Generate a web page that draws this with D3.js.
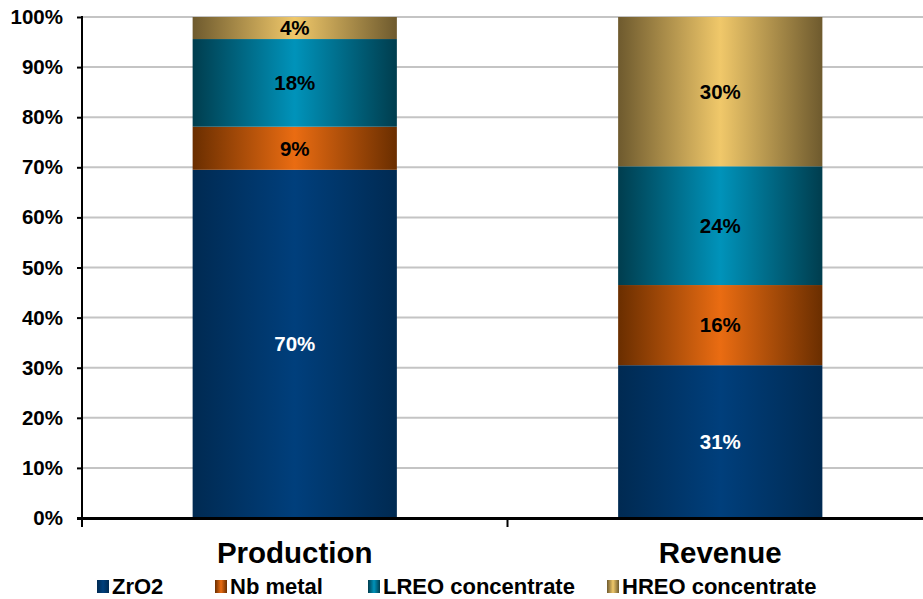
<!DOCTYPE html>
<html>
<head>
<meta charset="utf-8">
<script src="https://cdn.jsdelivr.net/npm/d3@7"></script>
<style>
  html, body { margin: 0; padding: 0; background: #fff; }
  svg { display: block; font-family: "Liberation Sans", Arial, sans-serif; font-weight: bold; }
</style>
</head>
<body>
<svg id="chart" width="923" height="599"></svg>
<script>
// ---- data ----
const categories = ["Production", "Revenue"];
const seriesNames = ["ZrO2", "Nb metal", "LREO concentrate", "HREO concentrate"];
const zro2Values = [69.5, 30.5];
const nbValues = [8.6, 16.0];
const lreoValues = [17.5, 23.7];
const hreoValues = [4.4, 29.8];
const yTicks = [0, 10, 20, 30, 40, 50, 60, 70, 80, 90, 100];

// gradient colours: [edge, centre]
const seriesColors = [
  ["#002a52", "#003f7c"],
  ["#6a2e00", "#ea6c12"],
  ["#003d4e", "#0093ba"],
  ["#6e5a2e", "#f0c86a"]
];
const labelColors = ["#ffffff", "#000000", "#000000", "#000000"];

const seriesValues = [zro2Values, nbValues, lreoValues, hreoValues];
const table = categories.map((c, i) => {
  const row = { category: c };
  seriesNames.forEach((s, j) => row[s] = seriesValues[j][i]);
  return row;
});

const svg = d3.select("#chart");
const margin = { left: 82, top: 17, bottom: 518, right: 933 };

const x = d3.scaleBand().domain(categories).range([margin.left, margin.right]).padding(0);
const y = d3.scaleLinear().domain([0, 100]).range([margin.bottom, margin.top]);

// gradients
const defs = svg.append("defs");
seriesColors.forEach((c, i) => {
  const g = defs.append("linearGradient").attr("id", "grad" + i)
    .attr("x1", "0%").attr("x2", "100%").attr("y1", "0%").attr("y2", "0%");
  g.append("stop").attr("offset", "0%").attr("stop-color", c[0]);
  g.append("stop").attr("offset", "50%").attr("stop-color", c[1]);
  g.append("stop").attr("offset", "100%").attr("stop-color", c[0]);
});

// gridlines
svg.append("g").selectAll("line").data(yTicks.filter(d => d > 0)).join("line")
  .attr("x1", margin.left).attr("x2", 923)
  .attr("y1", d => y(d)).attr("y2", d => y(d))
  .attr("stroke", "#c4c4c4").attr("stroke-width", 2);

// stacked bars
const stack = d3.stack().keys(seriesNames);
const stacked = stack(table);
const barW = x.bandwidth() * 0.48;

const layers = svg.append("g").selectAll("g").data(stacked).join("g")
  .attr("fill", (d, i) => `url(#grad${i})`);
layers.selectAll("rect").data(d => d).join("rect")
  .attr("x", d => x(d.data.category) + (x.bandwidth() - barW) / 2)
  .attr("width", barW)
  .attr("y", d => y(d[1]))
  .attr("height", d => y(d[0]) - y(d[1]));

// data labels
stacked.forEach((layer, i) => {
  svg.append("g").selectAll("text").data(layer).join("text")
    .attr("x", d => x(d.data.category) + x.bandwidth() / 2)
    .attr("y", d => (y(d[0]) + y(d[1])) / 2)
    .attr("dy", "0.36em")
    .attr("text-anchor", "middle")
    .attr("font-size", 20.5)
    .attr("fill", labelColors[i])
    .text(d => Math.round(d[1] - d[0]) + "%");
});

// y axis
const yAxis = d3.axisLeft(y).tickValues(yTicks).tickFormat(d => d + "%").tickSize(5).tickPadding(14);
const gy = svg.append("g").attr("transform", `translate(${margin.left},0)`).call(yAxis);
gy.select(".domain").remove();
gy.selectAll(".tick line").attr("stroke", "#000").attr("stroke-width", 2);
gy.selectAll(".tick text").attr("font-size", 20.5).attr("font-weight", "bold")
  .attr("fill", "#000").attr("font-family", "Liberation Sans, Arial, sans-serif");
svg.append("line").attr("x1", margin.left).attr("x2", margin.left)
  .attr("y1", margin.top - 1).attr("y2", margin.bottom + 9)
  .attr("stroke", "#000").attr("stroke-width", 2);

// x axis
svg.append("line").attr("x1", margin.left - 5).attr("x2", 923)
  .attr("y1", margin.bottom + 0.5).attr("y2", margin.bottom + 0.5)
  .attr("stroke", "#000").attr("stroke-width", 3);
svg.append("g").selectAll("line").data(categories.slice(1)).join("line")
  .attr("x1", d => x(d)).attr("x2", d => x(d))
  .attr("y1", margin.bottom).attr("y2", margin.bottom + 9)
  .attr("stroke", "#000").attr("stroke-width", 2);
svg.append("g").selectAll("text").data(categories).join("text")
  .attr("x", d => x(d) + x.bandwidth() / 2)
  .attr("y", 563)
  .attr("text-anchor", "middle")
  .attr("font-size", 29.5)
  .attr("fill", "#000")
  .text(d => d);

// legend
const legendX = [97, 215, 368, 607];
const lg = svg.append("g").selectAll("g").data(seriesNames).join("g")
  .attr("transform", (d, i) => `translate(${legendX[i]},0)`);
lg.append("rect").attr("x", 0).attr("y", 580).attr("width", 12).attr("height", 13)
  .attr("fill", (d, i) => `url(#grad${i})`);
lg.append("text").attr("x", 15).attr("y", 594).attr("font-size", 22).attr("fill", "#000").text(d => d);
</script>
</body>
</html>
